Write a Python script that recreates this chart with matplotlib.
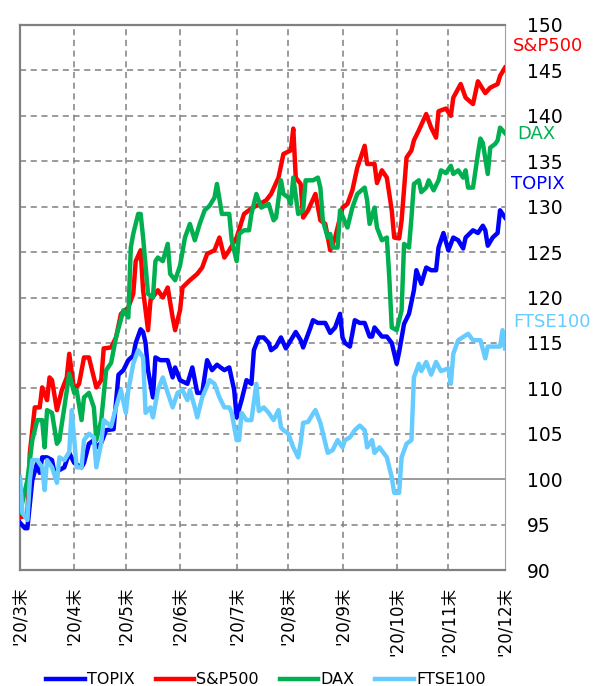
import matplotlib
matplotlib.use("Agg")
import matplotlib.pyplot as plt
import matplotlib.transforms as mtransforms

# ---- data (trading-day index since end of March 2020, index value) ----
month_end_idx = [0, 22, 43, 65, 88, 109, 131, 153, 174, 197]
month_labels = ["'20/3末", "'20/4末", "'20/5末", "'20/6末", "'20/7末",
                "'20/8末", "'20/9末", "'20/10末", "'20/11末", "'20/12末"]

spx_x = [0, 3, 4, 6, 8, 9, 11, 12, 13, 15, 17, 19, 20, 22, 24, 26, 28, 31, 33, 34,
         37, 39, 41, 44, 46, 47, 49, 50, 52, 53, 56, 58, 60, 62, 63, 65, 66, 69, 72, 74,
         76, 79, 81, 83, 85, 88, 91, 94, 96, 100, 102, 105, 107, 110, 111, 112, 114, 115, 117, 120,
         122, 124, 126, 128, 131, 133, 135, 137, 140, 141, 144, 145, 147, 149, 151, 152, 154, 155, 157, 159,
         160, 162, 165, 167, 169, 170, 173, 175, 176, 179, 181, 184, 186, 189, 191, 194, 195, 197]
spx_y = [95.8, 96.0, 102.9, 107.9, 107.9, 110.1, 108.7, 111.2, 110.9, 107.6, 109.8, 111.2, 113.8, 109.8, 110.5, 113.4, 113.4, 110.1, 110.9, 114.4,
         114.5, 115.6, 118.2, 118.9, 120.4, 124.0, 125.2, 120.8, 116.4, 119.7, 120.8, 120.0, 121.1, 117.8, 116.4, 118.6, 121.1, 121.9, 122.6, 123.3,
         124.8, 125.2, 126.6, 124.4, 125.2, 126.6, 129.2, 129.8, 130.1, 130.7, 131.4, 133.2, 135.8, 136.2, 138.6, 133.2, 132.5, 128.8, 129.6, 131.4,
         128.5, 128.1, 125.2, 126.6, 129.9, 130.3, 131.8, 134.3, 136.7, 134.7, 134.7, 132.6, 134.0, 133.2, 129.6, 126.6, 126.5, 128.5, 135.4, 136.2,
         137.3, 138.4, 140.2, 138.7, 137.6, 140.5, 140.8, 140.0, 142.0, 143.5, 142.0, 141.3, 143.8, 142.5, 143.1, 143.5, 144.4, 145.3]

dax_x = [0, 3, 5, 7, 9, 10, 11, 13, 15, 16, 18, 20, 22, 23, 25, 26, 28, 30, 31, 33,
         35, 37, 39, 42, 44, 45, 46, 48, 49, 50, 52, 54, 55, 56, 58, 60, 61, 63, 65, 67,
         69, 71, 73, 75, 77, 79, 80, 82, 85, 86, 88, 89, 91, 93, 94, 96, 98, 101, 103, 104,
         106, 107, 109, 110, 111, 113, 115, 116, 119, 121, 122, 123, 125, 126, 127, 129, 130, 133, 135, 137,
         140, 141, 142, 144, 145, 147, 149, 150, 151, 153, 155, 156, 158, 159, 160, 162, 163, 165, 166, 168,
         170, 171, 173, 175, 176, 178, 180, 181, 182, 184, 186, 187, 188, 190, 191, 193, 194, 195, 197]
dax_y = [96.3, 99.9, 104.3, 106.5, 106.5, 103.5, 107.6, 107.3, 103.9, 104.3, 107.9, 111.6, 109.5, 109.8, 106.5, 109.0, 109.5, 107.9, 104.3, 106.5,
         112.0, 112.8, 115.6, 118.6, 117.8, 125.5, 127.0, 129.2, 129.2, 126.6, 120.4, 120.0, 124.0, 124.4, 124.0, 125.9, 122.6, 121.9, 123.5, 126.6,
         128.1, 126.3, 128.1, 129.6, 130.1, 131.0, 132.5, 129.2, 129.2, 126.3, 124.0, 127.0, 127.4, 127.4, 129.2, 131.4, 129.9, 130.3, 128.5, 128.8,
         132.9, 131.4, 131.0, 130.3, 133.2, 129.2, 129.6, 132.9, 132.9, 133.2, 132.1, 128.5, 126.6, 127.0, 125.5, 125.5, 129.6, 127.7, 129.9, 131.4,
         132.1, 130.7, 128.1, 129.9, 127.7, 126.3, 126.6, 122.2, 116.7, 116.4, 118.6, 125.9, 125.5, 128.8, 132.5, 132.9, 131.6, 132.1, 132.9, 131.8,
         132.9, 134.0, 133.7, 134.5, 133.6, 134.0, 133.2, 134.0, 132.1, 132.1, 135.8, 137.5, 137.0, 133.6, 136.5, 136.9, 137.3, 138.7, 138.1]

topix_x = [0, 2, 3, 5, 7, 8, 9, 11, 13, 14, 16, 18, 20, 22, 25, 26, 28, 30, 31, 33,
           35, 38, 40, 42, 44, 46, 47, 49, 50, 51, 52, 54, 55, 57, 60, 62, 63, 65, 68, 70,
           72, 74, 76, 78, 80, 83, 85, 87, 88, 90, 92, 94, 95, 97, 99, 101, 102, 104, 106, 108,
           110, 112, 114, 115, 118, 119, 121, 124, 126, 128, 130, 131, 132, 134, 136, 138, 140, 142, 143, 144,
           147, 149, 151, 153, 154, 156, 158, 160, 161, 163, 165, 167, 169, 170, 172, 174, 176, 178, 180, 181,
           184, 186, 188, 189, 190, 192, 194, 195, 197]
topix_y = [95.2, 94.6, 94.6, 99.9, 101.8, 100.7, 102.4, 102.4, 102.1, 100.7, 101.0, 101.3, 102.9, 101.8, 101.3, 101.8, 103.9, 104.3, 103.5, 104.0,
           105.4, 105.5, 111.5, 112.0, 113.1, 113.6, 115.0, 116.5, 116.2, 115.0, 112.0, 109.0, 113.4, 113.1, 113.1, 111.2, 112.3, 110.9, 110.5, 112.3,
           109.5, 109.5, 113.1, 112.0, 112.6, 112.0, 112.3, 109.8, 106.8, 108.7, 110.9, 110.5, 114.2, 115.6, 115.6, 115.0, 114.2, 114.6, 115.6, 114.4,
           115.3, 116.2, 115.3, 114.5, 116.7, 117.5, 117.2, 117.2, 116.1, 116.7, 118.2, 115.6, 115.0, 114.6, 117.5, 117.2, 117.2, 115.7, 115.7, 116.7,
           115.7, 115.7, 115.0, 112.7, 114.0, 117.1, 118.2, 120.8, 123.0, 121.5, 123.3, 123.0, 123.0, 125.5, 127.1, 125.2, 126.6, 126.3, 125.4, 126.6,
           127.4, 127.1, 127.9, 127.4, 125.7, 126.6, 127.1, 129.6, 128.8]

ftse_x = [0, 1, 3, 4, 5, 7, 9, 10, 11, 13, 15, 16, 18, 20, 21, 23, 25, 26, 28, 30,
          31, 33, 34, 37, 39, 41, 43, 44, 46, 48, 50, 51, 53, 54, 56, 58, 60, 62, 64, 66,
          68, 69, 71, 72, 74, 77, 79, 81, 83, 85, 86, 88, 89, 90, 92, 94, 96, 97, 99, 101,
          103, 105, 106, 107, 109, 111, 113, 114, 115, 117, 119, 120, 122, 124, 125, 127, 129, 131, 132, 134,
          136, 138, 140, 141, 143, 144, 146, 149, 151, 152, 154, 155, 157, 159, 160, 162, 163, 165, 167, 169,
          171, 174, 175, 176, 178, 182, 184, 187, 189, 190, 193, 195, 196, 197]
ftse_y = [100.2, 96.3, 95.5, 99.9, 102.1, 102.1, 101.3, 98.8, 102.1, 101.3, 99.6, 102.4, 102.1, 103.0, 107.6, 101.3, 101.3, 104.3, 105.0, 104.6,
          101.3, 104.0, 106.5, 105.8, 107.9, 109.8, 107.3, 109.8, 112.7, 114.2, 113.4, 107.3, 107.9, 106.8, 109.8, 111.2, 109.5, 107.9, 109.5, 109.8,
          108.7, 109.8, 107.9, 106.8, 109.0, 110.9, 110.5, 109.0, 107.9, 107.9, 107.3, 104.3, 104.3, 107.3, 106.5, 106.5, 110.5, 107.5, 107.9, 107.3,
          106.5, 107.6, 105.7, 105.4, 105.0, 103.5, 102.4, 104.0, 106.2, 106.3, 107.2, 107.6, 106.2, 104.0, 102.9, 103.2, 104.3, 103.5, 104.3, 104.6,
          105.4, 105.9, 105.4, 103.5, 104.3, 102.9, 103.5, 102.4, 100.2, 98.5, 98.5, 102.4, 103.9, 104.3, 111.2, 112.7, 111.9, 112.9, 111.5, 112.9,
          111.9, 112.2, 110.5, 113.8, 115.3, 116.0, 115.3, 115.3, 113.3, 114.6, 114.6, 114.6, 116.4, 114.4]

series = [
    ("TOPIX", topix_x, topix_y, "#0000FF"),
    ("S&P500", spx_x, spx_y, "#FF0000"),
    ("DAX", dax_x, dax_y, "#00B050"),
    ("FTSE100", ftse_x, ftse_y, "#66CCFF"),
]
end_label_y = {"S&P500": 147.7, "DAX": 138.0, "TOPIX": 132.5, "FTSE100": 117.3}
end_label_dx = {"S&P500": 8, "DAX": 12, "TOPIX": 6, "FTSE100": 8}

y_ticks = list(range(90, 151, 5))

# ---- figure ----
W, H = 593, 686
fig = plt.figure(figsize=(W / 100, H / 100), dpi=100)
ax = fig.add_axes([20 / W, 1 - 570 / H, 485 / W, 545 / H])

grid_kw = dict(color="#808080", lw=1.1, ls=(0, (4, 3)), zorder=1)
for yv in y_ticks:
    if yv == 100:
        ax.axhline(yv, color="#808080", lw=1.1, zorder=1)
    elif 90 < yv < 150:
        ax.axhline(yv, **grid_kw)
for xv in month_end_idx[1:-1]:
    ax.axvline(xv, **grid_kw)

handles = []
for i, (name, xs, ys, col) in enumerate(series):
    h, = ax.plot(xs, ys, color=col, lw=3.2, solid_joinstyle="round", label=name, zorder=3 + i)
    handles.append(h)

ax.set_xlim(0, 197)
ax.set_ylim(90, 150)

ax.yaxis.tick_right()
ax.set_yticks(y_ticks)
ax.set_yticklabels([str(v) for v in y_ticks], fontsize=13.5)
ax.tick_params(axis="y", length=0, pad=16)

ax.set_xticks(month_end_idx)
ax.set_xticklabels(month_labels, rotation=90, fontsize=12,
                   family=["DejaVu Sans", "Noto Sans CJK JP"])
ax.tick_params(axis="x", length=0, pad=12)

for s in ["left", "bottom", "top"]:
    ax.spines[s].set_color("#808080")
    ax.spines[s].set_linewidth(1.6)
ax.spines["right"].set_color("#a0a0a0")
ax.spines["right"].set_linewidth(0.8)

trans = mtransforms.blended_transform_factory(ax.transAxes, ax.transData)
for name, xs, ys, col in series:
    ax.text(1 + end_label_dx[name] / 485, end_label_y[name], name, transform=trans,
            color=col, fontsize=13, ha="left", va="center", clip_on=False)

fig.legend(handles=handles, labels=[s[0] for s in series], loc="center",
           bbox_to_anchor=(266 / W, 1 - 680 / H), ncol=4, frameon=False,
           fontsize=11.5, handlelength=2.4, handletextpad=0.15, columnspacing=1.3,
           borderpad=0.2)

fig.savefig("out.png", dpi=100)
